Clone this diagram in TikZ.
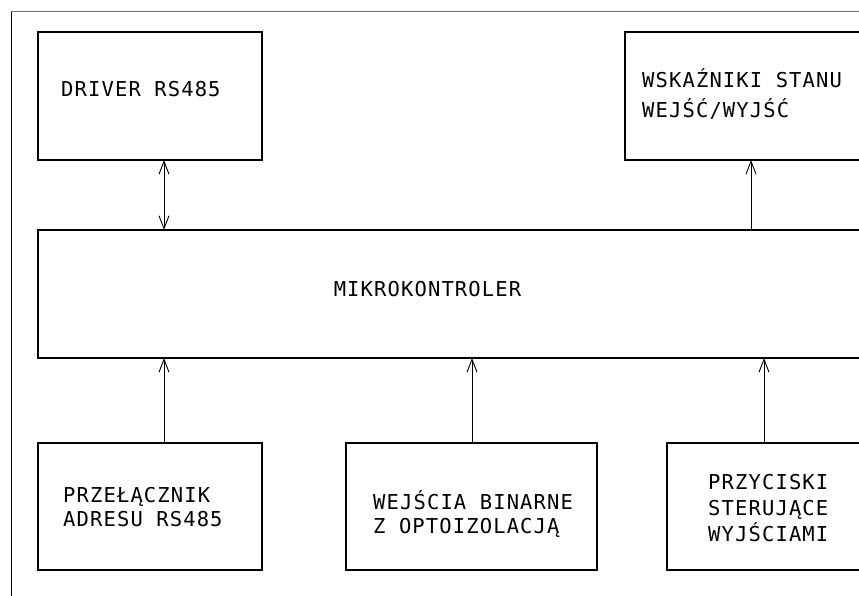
\documentclass[tikz,border=0pt]{standalone}
\usepackage{fontspec}
\newfontfamily\cadfont[LetterSpace=5.5]{DejaVu Sans Mono}
\usetikzlibrary{arrows.meta}
\begin{document}
\begin{tikzpicture}[x=1pt,y=1pt,
  blk/.style={draw, line width=2.8pt, inner sep=0pt, outer sep=0pt},
  txt/.style={font=\cadfont\fontsize{20.5}{24}\selectfont, inner sep=0pt, anchor=base west},
  conn/.style={line width=0.9pt, {Straight Barb[length=13pt,width=10pt]}-},
  conn2/.style={line width=0.9pt, {Straight Barb[length=13pt,width=10pt]}-{Straight Barb[length=13pt,width=10pt]}}]
\clip (0,0) rectangle (859,596);
\fill[white] (0,0) rectangle (859,596);
% frame
\coordinate (ftl) at (11,584);
\coordinate (ftr) at (859,584);
\coordinate (fbl) at (11,0);
\draw[line width=1pt, black!55] (ftl) -- (ftr);
\draw[line width=1pt] (ftl) -- (fbl);
% boxes
\node[blk, minimum width=224pt, minimum height=128pt] (drv) at (150,500) {};
\node[blk, minimum width=255pt, minimum height=128pt] (wsk) at (752.5,500) {};
\node[blk, minimum width=842pt, minimum height=128pt] (mk) at (459,302) {};
\node[blk, minimum width=224pt, minimum height=127pt] (b1) at (150,89.5) {};
\node[blk, minimum width=251pt, minimum height=127pt] (b2) at (471.5,89.5) {};
\node[blk, minimum width=213pt, minimum height=127pt] (b3) at (773.5,89.5) {};
% texts
\node[txt] (tdrv) at (61,499) {DRIVER RS485};
\node[txt] (twsk1) at (642,508) {WSKAŹNIKI STANU};
\node[txt] (twsk2) at (642,478) {WEJŚĆ/WYJŚĆ};
\node[txt, anchor=base] (tmk) at (427.5,299) {MIKROKONTROLER};
\node[txt] (tb1a) at (63,93) {PRZEŁĄCZNIK};
\node[txt] (tb1b) at (63,69) {ADRESU RS485};
\node[txt] (tb2a) at (373,86) {WEJŚCIA BINARNE};
\node[txt] (tb2b) at (373,62) {Z OPTOIZOLACJĄ};
\node[txt] (tb3a) at (708,106) {PRZYCISKI};
\node[txt] (tb3b) at (708,80.5) {STERUJĄCE};
\node[txt] (tb3c) at (708,54.5) {WYJŚCIAMI};
% connectors
\coordinate (x1) at (164,0);
\coordinate (x2) at (472,0);
\coordinate (x3) at (764,0);
\coordinate (x4) at (751,0);
\draw[conn2] (drv.south -| x1) -- (mk.north -| x1);
\draw[conn] (wsk.south -| x4) -- (mk.north -| x4);
\draw[conn] (mk.south -| x1) -- (b1.north -| x1);
\draw[conn] (mk.south -| x2) -- (b2.north -| x2);
\draw[conn] (mk.south -| x3) -- (b3.north -| x3);
\end{tikzpicture}
\end{document}
